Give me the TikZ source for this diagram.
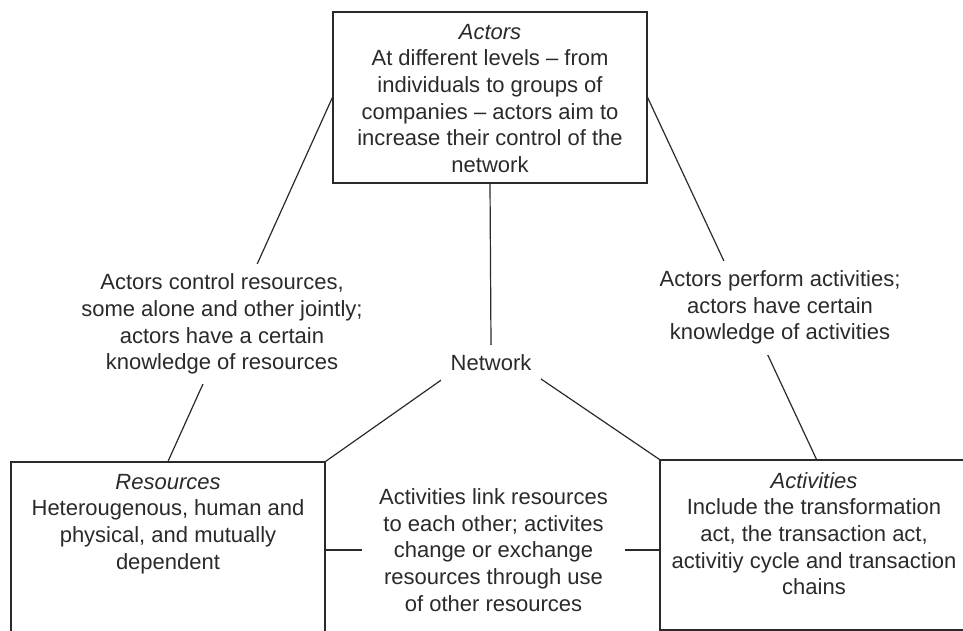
\documentclass[tikz,border=0pt]{standalone}
\usepackage{fontspec}
\setmainfont{Liberation Sans}
\usetikzlibrary{backgrounds}
\definecolor{ink}{HTML}{2A2A2A}
\begin{document}
\begin{tikzpicture}[x=0.75pt,y=-0.75pt,
  every node/.style={font=\fontsize{16.5}{20}\selectfont, text=ink},
  box/.style={draw=ink, line width=0.9pt, inner sep=0pt},
  boxtext/.style={align=center, inner sep=0pt},
  gaplabel/.style={align=center, fill=white, inner xsep=0pt, inner ysep=0pt},
  conn/.style={draw=ink, line width=0.9pt}]
\useasboundingbox (0,0) rectangle (963,631);

% the three boxes of the model
\node[box, minimum width=235.5pt, minimum height=128.25pt] (actors) at (490,97.5) {};
\node[box, minimum width=235.5pt, minimum height=141pt] (res) at (168,556) {};
\node[box, minimum width=234.75pt, minimum height=127.5pt] (act) at (816.5,545) {};

\node[boxtext] (actorstext) at (490,98.5)
  {\textit{Actors}\\At different levels – from\\individuals to groups of\\companies – actors aim to\\increase their control of the\\network};
\node[boxtext] (restext) at (168,524)
  {\textit{Resources}\\Heterougenous, human and\\physical, and mutually\\dependent};
\node[boxtext] (acttext) at (814,533.5)
  {\textit{Activities}\\Include the transformation\\act, the transaction act,\\activitiy cycle and transaction\\chains};

% labels sitting on the links
\node[gaplabel, minimum height=90pt] (leftlab) at (222,324)
  {Actors control resources,\\some alone and other jointly;\\actors have a certain\\knowledge of resources};
\node[gaplabel, minimum height=70.5pt] (rightlab) at (780,307.5)
  {Actors perform activities;\\actors have certain\\knowledge of activities};
\node[gaplabel, minimum width=197.25pt] (midlab) at (493.5,550)
  {Activities link resources\\to each other; activites\\change or exchange\\resources through use\\of other resources};
\node[fill=white, inner sep=7.5pt] (network) at (491,363) {Network};
\coordinate (hub) at (491,345);

% links, kept behind the labels
\begin{scope}[on background layer]
  \draw[conn] (actors.west) -- (res.north);
  \draw[conn] (actors.east) -- (act.north);
  \draw[conn] (actors.south) -- (hub);
  \draw[conn] (hub) -- (res.north east);
  \draw[conn] (hub) -- (act.north west);
  \draw[conn] (res.east |- midlab) -- (act.west |- midlab);
\end{scope}
\end{tikzpicture}
\end{document}
